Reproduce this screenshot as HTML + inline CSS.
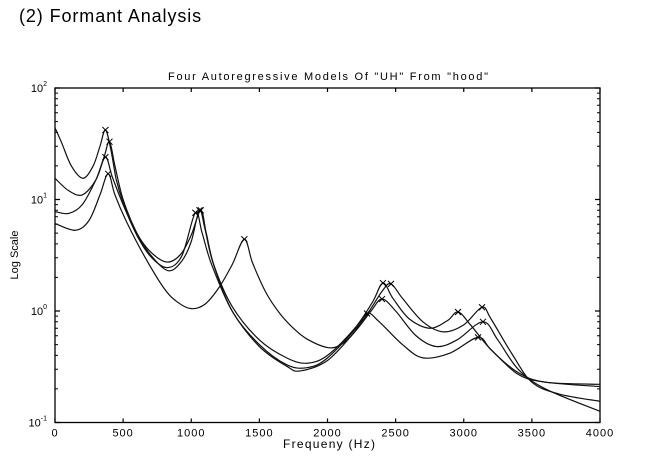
<!DOCTYPE html>
<html><head><meta charset="utf-8">
<style>
html,body{margin:0;padding:0;background:#fff;width:664px;height:456px;overflow:hidden}
#hdr{position:absolute;left:19px;top:6px;font-family:"Liberation Sans",sans-serif;font-size:18px;letter-spacing:0.9px;color:#000}
svg{position:absolute;left:0;top:0}
text{font-family:"Liberation Sans",sans-serif;fill:#000}
</style></head>
<body>
<div id="hdr">(2) Formant Analysis</div>
<svg id="chart" width="664" height="456"></svg>
<script>
const xTicks=[0,500,1000,1500,2000,2500,3000,3500,4000];
const yExps=[2,1,0,-1];
const fA=[0,50,120,205,280,330,370,410,450,500,600,700,820,920,1000,1070,1110,1170,1300,1500,1700,1850,2000,2200,2330,2407,2480,2600,2750,2880,2958,3050,3200,3400,3600,4000];
const vA=[44,32,20,15.5,20,30,42,28,15,9.5,5,3.4,2.75,3.2,4.8,8,5,2.5,1.1,0.55,0.38,0.34,0.4,0.7,1.2,1.78,1.3,0.85,0.7,0.82,0.98,0.75,0.45,0.28,0.23,0.22];
const fB=[0,100,200,300,360,400,440,500,600,700,830,930,1000,1060,1100,1160,1300,1500,1700,1850,2000,2250,2400,2466,2550,2700,2850,3000,3134,3200,3350,3500,3700,4000];
const vB=[15.5,12,11,15,24,33,20,10,5,3.2,2.3,2.8,4.2,8,5.5,2.7,1.0,0.5,0.33,0.31,0.38,0.8,1.5,1.75,1.3,0.8,0.65,0.75,1.08,0.85,0.42,0.23,0.18,0.155];
const fC=[0,100,200,300,370,420,500,600,700,820,930,1030,1080,1150,1300,1500,1700,1800,2000,2200,2320,2400,2500,2650,2800,2950,3141,3250,3400,3600,4000];
const vC=[7.8,7.5,9,15,24,16,9,4.8,3.1,2.45,3.1,7.6,5,2.6,1.0,0.48,0.32,0.29,0.36,0.65,1.0,1.28,1.0,0.6,0.48,0.55,0.8,0.55,0.3,0.2,0.126];
const fD=[0,150,250,330,390,440,520,650,800,900,1000,1100,1200,1300,1390,1450,1550,1650,1750,1850,2000,2100,2200,2290,2380,2550,2700,2900,3105,3200,3400,3600,4000];
const vD=[6.1,5.3,6.5,11,17,11,6.5,3.2,1.6,1.2,1.05,1.15,1.6,2.6,4.4,2.7,1.45,0.95,0.7,0.56,0.47,0.5,0.65,0.95,0.8,0.5,0.38,0.42,0.58,0.45,0.27,0.23,0.21];
const peakF=[370,2407,2958, 400,1060,2466,3134, 370,1030,2400,3141, 390,1390,2290,3105, 1070];
const peakV=[42,1.78,0.98, 33,8,1.75,1.08, 24,7.6,1.28,0.8, 17,4.4,0.95,0.58, 8];

const L=55,R=600,T=88,B=422.5;
const sx=f=>L+(f-0)/4000*(R-L);
const sy=v=>T+(2-Math.log10(v))/3*(B-T);
const svg=document.getElementById('chart');
const NS='http://www.w3.org/2000/svg';
function mk(t,a){const e=document.createElementNS(NS,t);for(const k in a)e.setAttribute(k,a[k]);svg.appendChild(e);return e;}

let e=mk('text',{x:168,y:80,'font-size':'11',textLength:'320',lengthAdjust:'spacing'});e.textContent='Four Autoregressive Models Of "UH" From "hood"';


e=mk('rect',{x:L,y:T,width:R-L,height:B-T,fill:'none',stroke:'#000','stroke-width':1.3});



xTicks.forEach(t=>{
  const x=sx(t);
  let m=mk('path',{d:`M${x},${B}v-4M${x},${T}v4`,stroke:'#000','stroke-width':1.2});
  
  
  m=mk('text',{x:x,y:B+14,'text-anchor':'middle','font-size':'11','letter-spacing':'1'});m.textContent=t;
  
  
});
yExps.forEach(p=>{
  const y=sy(Math.pow(10,p));
  let m=mk('path',{d:`M${L},${y}h5M${R},${y}h-5`,stroke:'#000','stroke-width':1.2});
  
  
  m=mk('text',{x:L-8,y:y+4,'text-anchor':'end','font-size':'11'});
  m.innerHTML='10<tspan dy="-6" font-size="7">'+p+'</tspan>';
  
  
  if(p>-1){for(let k=2;k<10;k++){const yy=sy(k*Math.pow(10,p-1));
    m=mk('path',{d:`M${L},${yy}h3M${R},${yy}h-3`,stroke:'#000','stroke-width':1});
    
    }}
});
e=mk('text',{x:283,y:448,'font-size':'12',textLength:'92',lengthAdjust:'spacing'});e.textContent='Frequeny (Hz)';


e=mk('text',{x:0,y:0,'text-anchor':'middle','font-size':'11',transform:'translate(18,255) rotate(-90)'});e.textContent='Log Scale';



function curve(fs,vs,name){
  const p=fs.map((f,i)=>[sx(f),sy(vs[i])]);
  let d='M'+p[0][0]+','+p[0][1];
  for(let i=0;i<p.length-1;i++){
    const p0=p[i-1]||p[i],p1=p[i],p2=p[i+1],p3=p[i+2]||p[i+1];
    const c1=[p1[0]+(p2[0]-p0[0])/6,p1[1]+(p2[1]-p0[1])/6];
    const c2=[p2[0]-(p3[0]-p1[0])/6,p2[1]-(p3[1]-p1[1])/6];
    d+=`C${c1[0]},${c1[1]} ${c2[0]},${c2[1]} ${p2[0]},${p2[1]}`;
  }
  const el=mk('path',{d:d,fill:'none',stroke:'#111','stroke-width':1.2});
  
  
}
curve(fA,vA,'model-1-curve');
curve(fB,vB,'model-2-curve');
curve(fC,vC,'model-3-curve');
curve(fD,vD,'model-4-curve');
peakF.forEach((f,i)=>{
  const x=sx(f),y=sy(peakV[i]);
  const m=mk('path',{d:`M${x-3},${y-3}l6,6M${x-3},${y+3}l6,-6`,stroke:'#000','stroke-width':1});
  
  
});
</script>
</body></html>
